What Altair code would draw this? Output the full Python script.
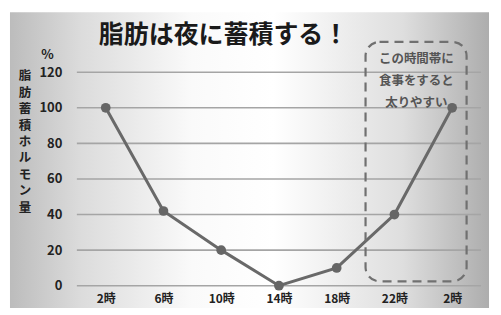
import json
import altair as alt
import pandas as pd

# ---- data ----
hours = ["2時", "6時", "10時", "14時", "18時", "22時", "2時"]
values = [100, 42, 20, 0, 10, 40, 100]
y_ticks = [0, 20, 40, 60, 80, 100, 120]
title_text = "脂肪は夜に蓄積する！"
y_title = "脂肪蓄積ホルモン量"
note_lines = ["この時間帯に", "食事をすると", "太りやすい"]
highlight_from = 4.5   # between 18時 and 22時
highlight_to = 6.25

FONT = "Noto Sans CJK JP"

df = pd.DataFrame({"idx": list(range(len(hours))), "v": values})
grid_df = pd.DataFrame({"idx": [-0.5] * len(y_ticks), "x1": [6.5] * len(y_ticks), "v": y_ticks})

x_scale = alt.Scale(domain=[-0.5, 6.5], nice=False, zero=False)
y_scale = alt.Scale(domain=[0, 120], nice=False)

label_expr = json.dumps(hours, ensure_ascii=False) + "[datum.value]"

x_axis = alt.Axis(values=list(range(len(hours))), labelExpr=label_expr,
                  title=None, domain=False, ticks=False, grid=False, zindex=1,
                  labelOverlap=False,
                  labelPadding=8, labelFont=FONT, labelFontWeight="bold",
                  labelFontSize=12, labelColor="#222")
y_axis = alt.Axis(values=y_ticks, title="%", titleAngle=0, titleX=-30, titleY=-18,
                  titleAlign="center", titleBaseline="middle",
                  titleFont=FONT, titleFontSize=13, titleFontWeight="bold",
                  titleColor="#222", zindex=1, labelOverlap=False,
                  domain=False, ticks=False, grid=False,
                  labelPadding=15, labelFont=FONT,
                  labelFontWeight="bold", labelFontSize=13, labelColor="#222")

X = lambda f: alt.X(f, scale=x_scale, axis=x_axis)
Y = lambda f: alt.Y(f, scale=y_scale, axis=y_axis)

bg = alt.Chart(pd.DataFrame({"a": [0]})).mark_rect(
    color=alt.Gradient(
        gradient="linear",
        stops=[
            alt.GradientStop(offset=0, color="#bcbcbc"),
            alt.GradientStop(offset=0.15, color="#dcdcdc"),
            alt.GradientStop(offset=0.38, color="#fafafa"),
            alt.GradientStop(offset=0.55, color="#ffffff"),
            alt.GradientStop(offset=0.82, color="#dedede"),
            alt.GradientStop(offset=1, color="#adadad"),
        ],
        x1=0, x2=1, y1=0, y2=0,
    )
).encode(x=alt.value(-67), x2=alt.value(413), y=alt.value(-60), y2=alt.value(238))

grid = alt.Chart(grid_df).mark_rule(color="#a5a5a5", strokeWidth=1.6).encode(
    x=X("idx:Q"), x2="x1", y=Y("v:Q")
)

base = alt.Chart(df).encode(x=X("idx:Q"), y=Y("v:Q"))

line = base.mark_line(color="#696969", strokeWidth=3)
pts = base.mark_circle(color="#666666", size=95, opacity=1)

box = alt.Chart(pd.DataFrame({"idx": [highlight_from], "x2": [highlight_to], "v": [2.5], "y2": [137]})).mark_rect(
    fill=None, stroke="#707070", strokeWidth=2.2, strokeDash=[9, 6], cornerRadius=14
).encode(x=X("idx:Q"), x2="x2", y=Y("v:Q"), y2="y2")

note = alt.Chart(pd.DataFrame({"idx": [5.38], "v": [127.5]})).mark_text(
    text=note_lines, font=FONT, fontSize=12.5, fontWeight="bold", color="#555",
    lineHeight=22, baseline="middle", align="center"
).encode(x=X("idx:Q"), y=Y("v:Q"))

ytitle = alt.Chart(pd.DataFrame({"a": [0]})).mark_text(
    text=list(y_title), font=FONT, fontSize=12.5, fontWeight="bold", color="#222",
    lineHeight=16.5, baseline="top", align="center"
).encode(x=alt.value(-52), y=alt.value(-2))

title = alt.Chart(pd.DataFrame({"a": [0]})).mark_text(
    text=title_text, font=FONT, fontSize=25, fontWeight="bold", color="#1a1a1a",
    baseline="middle", align="center"
).encode(x=alt.value(147), y=alt.value(-37))

chart = alt.layer(bg, grid, line, pts, box, note, ytitle, title).properties(
    width=405, height=214,
    autosize=alt.AutoSizeParams(type="none"),
    padding={"left": 69, "top": 64, "right": 12, "bottom": 22},
    background="white",
).configure_view(stroke=None).configure_axis(labelOverlap=False)

chart.save("out.html", embed_options={"renderer": "svg", "actions": False})
